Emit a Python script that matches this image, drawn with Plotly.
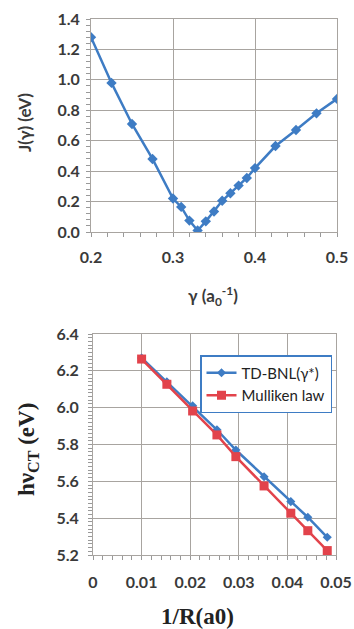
import plotly.graph_objects as go

# Top panel: J(gamma)
gamma = [0.20, 0.225, 0.25, 0.275, 0.30, 0.31, 0.32, 0.33, 0.34, 0.35, 0.36, 0.37, 0.38, 0.39, 0.40, 0.425, 0.45, 0.475, 0.50]
J = [1.28, 0.98, 0.71, 0.48, 0.22, 0.165, 0.075, 0.01, 0.07, 0.135, 0.205, 0.255, 0.305, 0.355, 0.42, 0.565, 0.67, 0.78, 0.875]

# Bottom panel: hv_CT vs 1/R
invR = [0.0100, 0.0152, 0.0205, 0.0255, 0.0294, 0.0352, 0.0407, 0.0442, 0.0482]
td_bnl = [6.27, 6.14, 6.01, 5.88, 5.77, 5.625, 5.49, 5.405, 5.296]
mulliken = [6.264, 6.127, 5.982, 5.852, 5.734, 5.575, 5.427, 5.332, 5.224]

top_xticks = [0.2, 0.3, 0.4, 0.5]
top_xlabels = ["0.2", "0.3", "0.4", "0.5"]
top_yticks = [0.0, 0.2, 0.4, 0.6, 0.8, 1.0, 1.2, 1.4]
top_ylabels = ["0.0", "0.2", "0.4", "0.6", "0.8", "1.0", "1.2", "1.4"]
bot_xticks = [0, 0.01, 0.02, 0.03, 0.04, 0.05]
bot_xlabels = ["0", "0.01", "0.02", "0.03", "0.04", "0.05"]
bot_yticks = [5.2, 5.4, 5.6, 5.8, 6.0, 6.2, 6.4]
bot_ylabels = ["5.2", "5.4", "5.6", "5.8", "6.0", "6.2", "6.4"]

BLUE = "#3E7CC4"
RED = "#E2434B"
GRID = "#A8A4A0"
TXT = "#3A3A3A"
SANS = "Lato, Open Sans, sans-serif"
SERIF = "Liberation Serif, DejaVu Serif, serif"
W, H = 354, 629

fig = go.Figure()
fig.add_trace(go.Scatter(x=gamma, y=J, mode="lines+markers", xaxis="x", yaxis="y",
                         line=dict(color=BLUE, width=2.5),
                         marker=dict(symbol="diamond", size=8, color=BLUE),
                         showlegend=False))
fig.add_trace(go.Scatter(x=invR, y=td_bnl, mode="lines+markers", xaxis="x2", yaxis="y2",
                         name="TD-BNL(γ*)",
                         line=dict(color=BLUE, width=2.5),
                         marker=dict(symbol="diamond", size=7, color=BLUE)))
fig.add_trace(go.Scatter(x=invR, y=mulliken, mode="lines+markers", xaxis="x2", yaxis="y2",
                         name="Mulliken law",
                         line=dict(color=RED, width=2.5),
                         marker=dict(symbol="square", size=9, color=RED)))

tickfont = dict(family=SANS, size=16, color=TXT, weight="bold")
common = dict(showgrid=True, gridcolor=GRID, gridwidth=1, showline=True, linecolor=GRID,
              linewidth=1, mirror=True, zeroline=False, ticks="outside", ticklen=0,
              tickfont=tickfont, automargin=False)

def minor(d):
    return dict(dtick=d, ticks="outside", ticklen=4, tickcolor="#999999", showgrid=False)

fig.update_layout(
    width=W, height=H,
    margin=dict(l=0, r=0, t=0, b=0),
    paper_bgcolor="white", plot_bgcolor="white",
    xaxis=dict(domain=[91/W, 337/W], range=[0.2, 0.5], tickvals=top_xticks,
               ticktext=top_xlabels, anchor="y", minor=minor(0.02),
               ticklabelstandoff=11, **common),
    yaxis=dict(domain=[1-232/H, 1-19/H], range=[0, 1.4], tickvals=top_yticks,
               ticktext=top_ylabels, anchor="x", minor=minor(0.04),
               ticklabelstandoff=7, **common),
    xaxis2=dict(domain=[93/W, 336/W], range=[0, 0.05], tickvals=bot_xticks,
                ticktext=bot_xlabels, anchor="y2", minor=minor(0.002),
                ticklabelstandoff=13, **common),
    yaxis2=dict(domain=[1-555/H, 1-334/H], range=[5.2, 6.4], tickvals=bot_yticks,
                ticktext=bot_ylabels, anchor="x2", minor=minor(0.02),
                ticklabelstandoff=10, **common),
    legend=dict(x=200/W, y=1-355/H, xanchor="left", yanchor="top",
                bgcolor="white", bordercolor=BLUE, borderwidth=1.5,
                font=dict(family=SANS, size=15, color="#222222"),
                itemwidth=30, tracegroupgap=6),
)

def title(text, x, y, font, angle=0):
    fig.add_annotation(text=text, x=x/W, y=1-y/H, xref="paper", yref="paper",
                       xanchor="center", yanchor="middle", showarrow=False,
                       textangle=angle, font=font)

sans_title = dict(family=SANS, size=17, color=TXT, weight="bold")
serif_title = dict(family=SERIF, size=23, color="#222222", weight="bold")
title("J(γ) (eV)", 25, 123, sans_title, -90)
title("γ (a<sub>0</sub><sup>-1</sup>)", 213, 296, sans_title)
title("hν<sub>CT</sub> (eV)", 28, 450, serif_title, -90)
title("1/R(a0)", 198, 616, serif_title)

fig.write_html("out.html", config={"displayModeBar": False},
               post_script="document.body.style.margin='0';document.body.style.overflow='hidden';")
